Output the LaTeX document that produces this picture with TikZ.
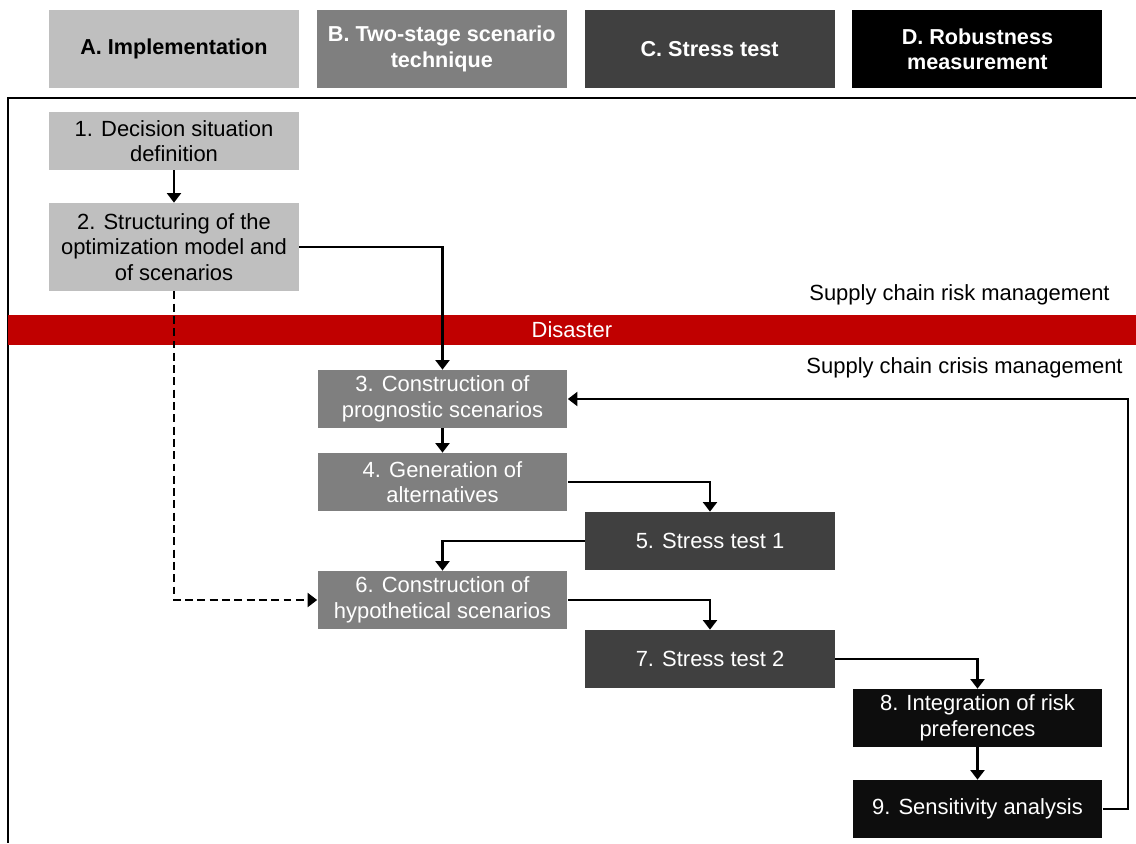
\documentclass[tikz,border=0pt]{standalone}
\usepackage{fontspec}
\setmainfont{Liberation Sans}
\usetikzlibrary{arrows.meta}
\definecolor{tierA}{HTML}{BFBFBF}
\definecolor{tierB}{HTML}{7F7F7F}
\definecolor{tierC}{HTML}{404040}
\definecolor{tierD}{HTML}{000000}
\definecolor{tierE}{HTML}{0D0D0D}
\definecolor{disaster}{HTML}{C00000}
\tikzset{stage/.style={shape=rectangle, minimum width=5cm, minimum height=1.16cm,
  inner sep=0, align=center, font=\fontsize{12.5}{14.5}\selectfont},
  head/.style={stage, minimum height=1.56cm, font=\fontsize{12.3}{14.4}\selectfont\bfseries},
  stepA/.style={stage, fill=tierA}, stepAtall/.style={stepA, minimum height=1.76cm},
  stepB/.style={stage, fill=tierB, text=white},
  stepC/.style={stage, fill=tierC, text=white},
  stepD/.style={stage, fill=tierE, text=white},
  flow/.style={-{Triangle[length=5.5pt, width=8pt]}, line width=1.5pt}}

\begin{document}
\begin{tikzpicture}[x=0.02cm, y=-0.02cm]
    \useasboundingbox (0,0) rectangle (1136,843);
    \foreach \hlabel/\hcol/\tcol [count=\j] in {A. Implementation/tierA/black,
      {B. Two-stage scenario\\technique}/tierB/white, C. Stress test/tierC/white,
      {D. Robustness\\measurement}/tierD/white}
        \node [head, fill=\hcol, text=\tcol] at (174+267.8*\j-267.8, 49) (h-\j) {\hlabel};
    \draw [line width=0.9pt] (1136,98) -- (8,98) -- (8,843);
    \node [stage, fill=disaster, text=white, minimum width=22.56cm, minimum height=0.6cm]
        at (572,330) (disaster) {Disaster};
    \node [stage, anchor=east, minimum width=0, minimum height=0] at (1110,295) (risk)
        {Supply chain risk management};
    \node [stage, anchor=east, minimum width=0, minimum height=0] at (1123,368) (crisis)
        {Supply chain crisis management};
    \foreach \slabel/\sx/\sy/\sstyle [count=\i] in {
        {1. Decision situation\\definition}/174/141/stepA,
        {2. Structuring of the\\optimization model and\\of scenarios}/174/247/stepAtall,
        {3. Construction of\\prognostic scenarios}/442.5/399/stepB,
        {4. Generation of\\alternatives}/442.5/482/stepB,
        5. Stress test 1/710/541/stepC,
        {6. Construction of\\hypothetical scenarios}/442.5/600/stepB,
        7. Stress test 2/710/659/stepC,
        {8. Integration of risk\\preferences}/977.5/718/stepD,
        9. Sensitivity analysis/977.5/809/stepD}
        \node [\sstyle] at (\sx,\sy) (s-\i) {\slabel};
    \draw [flow] (s-1) -- (s-2);
    \draw [flow] (s-2.east) -| (s-3.north);
    \draw [flow] (s-3) -- (s-4);
    \draw [flow] (s-4.east) -| (s-5.north);
    \draw [flow] (s-5.west) -| (s-6.north);
    \draw [flow, dash pattern=on 4.5pt off 2.5pt] (s-2.south) |- (s-6.west);
    \draw [flow] (s-6.east) -| (s-7.north);
    \draw [flow] (s-7.east) -| (s-8.north);
    \draw [flow] (s-8) -- (s-9);
    \draw [flow] (s-9.east) -- ++(25,0) |- (s-3.east);
\end{tikzpicture}
\end{document}
